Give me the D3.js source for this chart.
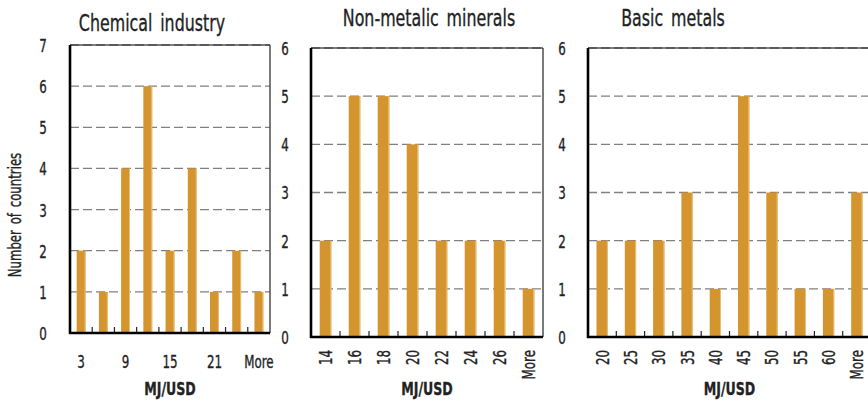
<!DOCTYPE html>
<html>
<head>
<meta charset="utf-8">
<script src="https://cdn.jsdelivr.net/npm/d3@7"></script>
<style>
  html, body { margin: 0; padding: 0; background: #fff; }
  svg { display: block; }
  text { font-family: "DejaVu Sans", sans-serif; fill: #222; stroke: #222; stroke-width: 0.35; }
</style>
</head>
<body>
<svg id="chart" width="868" height="401"></svg>
<script>
// ---- Data ----
const chemCategories = ["3", "6", "9", "12", "15", "18", "21", "24", "More"];
const chemValues = [2, 1, 4, 6, 2, 4, 1, 2, 1];
const chemTickLabels = ["3", "", "9", "", "15", "", "21", "", "More"];
const chemYTicks = [0, 1, 2, 3, 4, 5, 6, 7];

const mineralCategories = ["14", "16", "18", "20", "22", "24", "26", "More"];
const mineralValues = [2, 5, 5, 4, 2, 2, 2, 1];
const mineralYTicks = [0, 1, 2, 3, 4, 5, 6];

const metalCategories = ["20", "25", "30", "35", "40", "45", "50", "55", "60", "More"];
const metalValues = [2, 2, 2, 3, 1, 5, 3, 1, 1, 3];
const metalYTicks = [0, 1, 2, 3, 4, 5, 6];

const panelTitles = ["Chemical industry", "Non-metalic minerals", "Basic metals"];
const xAxisTitle = "MJ/USD";
const yAxisTitle = "Number of countries";

// ---- Drawing ----
const svg = d3.select("#chart");
const barColor = "#D4952F";
const tickScale = 0.66;   // horizontal squeeze to mimic a condensed face

function drawPanel(p) {
  const g = svg.append("g");
  const x = d3.scaleBand().domain(p.categories).range([p.left, p.right]).paddingInner(0).paddingOuter(0);
  const y = d3.scaleLinear().domain([0, d3.max(p.yTicks)]).range([p.bottom, p.top]);

  // gridlines
  g.selectAll("line.grid").data(p.yTicks.filter(t => t > 0)).join("line")
    .attr("x1", p.left).attr("x2", p.right)
    .attr("y1", d => y(d)).attr("y2", d => y(d))
    .attr("stroke", "#808080").attr("stroke-width", 1.3)
    .attr("stroke-dasharray", "9,4");

  // top border & right border
  g.append("line").attr("x1", p.left).attr("x2", p.right)
    .attr("y1", p.top).attr("y2", p.top)
    .attr("stroke", "#333").attr("stroke-width", 1.6).attr("stroke-opacity", 0.85);
  g.append("line").attr("x1", p.right).attr("x2", p.right)
    .attr("y1", p.top).attr("y2", p.bottom)
    .attr("stroke", "#333").attr("stroke-width", 1.3);

  // bars
  const bw = x.bandwidth() * 0.4;
  g.selectAll("rect.bar").data(p.values).join("rect")
    .attr("x", (d, i) => x(p.categories[i]) + (x.bandwidth() - bw) / 2)
    .attr("width", bw)
    .attr("y", d => y(d))
    .attr("height", d => y(0) - y(d))
    .attr("fill", barColor);
  g.selectAll("rect.hl").data(p.values).join("rect")
    .attr("x", (d, i) => x(p.categories[i]) + (x.bandwidth() + bw) / 2 - 1)
    .attr("width", 1)
    .attr("y", d => y(d))
    .attr("height", d => y(0) - y(d))
    .attr("fill", "#E8C07A");

  // inner x ticks at band boundaries
  const bounds = p.categories.slice(1).map(c => x(c));
  g.selectAll("line.xt").data(bounds).join("line")
    .attr("x1", d => d).attr("x2", d => d)
    .attr("y1", p.bottom).attr("y2", p.bottom - 6)
    .attr("stroke", "#222").attr("stroke-width", 1.2);

  // axes lines
  g.append("line").attr("x1", p.left).attr("x2", p.left)
    .attr("y1", p.top).attr("y2", p.bottom + 1)
    .attr("stroke", "#000").attr("stroke-width", 2.6);
  g.append("line").attr("x1", p.left - 1).attr("x2", p.right)
    .attr("y1", p.bottom).attr("y2", p.bottom)
    .attr("stroke", "#000").attr("stroke-width", 2.4);

  // y tick labels via axis
  const yAxis = d3.axisLeft(y).tickValues(p.yTicks).tickFormat(d3.format("d"))
    .tickSize(0).tickPadding(p.yPad);
  const ya = g.append("g").attr("transform", `translate(${p.left},0)`).call(yAxis);
  ya.select(".domain").remove();
  ya.selectAll("text").attr("text-anchor", "middle").attr("x", 0).attr("dy", "0.36em")
    .attr("transform", `translate(${-p.yPad},0) scale(${tickScale},1)`)
    .style("font-size", "18px").style("font-family", null).attr("fill", "#222");

  // x tick labels
  const xAxis = d3.axisBottom(x).tickSize(0).tickFormat((d, i) => p.tickLabels[i]);
  const xa = g.append("g").attr("transform", `translate(0,${p.bottom})`).call(xAxis);
  xa.select(".domain").remove();
  if (p.rotate) {
    xa.selectAll("text")
      .attr("text-anchor", "end")
      .attr("x", 0).attr("y", 0).attr("dy", "0.36em")
      .attr("transform", `rotate(-90) translate(-13,0) scale(${tickScale},1)`)
      .style("font-size", "18px").style("font-family", null).attr("fill", "#222");
  } else {
    xa.selectAll("text").attr("x", 0).attr("y", 0).attr("dy", "0.71em")
      .attr("transform", `translate(0,22) scale(${tickScale},1)`)
      .style("font-size", "18px").style("font-family", null).attr("fill", "#222");
  }

  // x axis title
  g.append("text")
    .attr("transform", `translate(${(p.left + p.right) / 2},395) scale(0.7,1)`)
    .attr("text-anchor", "middle").style("font-size", "18px").style("font-weight", "bold")
    .text(xAxisTitle);

  // panel title
  g.append("text")
    .attr("transform", `translate(${p.titleX},${p.titleY}) scale(0.69,1)`)
    .attr("text-anchor", "middle").style("font-size", "23px").style("word-spacing", "4px")
    .text(p.title);
}

drawPanel({
  categories: chemCategories, values: chemValues, tickLabels: chemTickLabels, yTicks: chemYTicks,
  left: 70, right: 270, top: 45, bottom: 333, yPad: 27, rotate: false,
  title: panelTitles[0], titleX: 152, titleY: 31
});
drawPanel({
  categories: mineralCategories, values: mineralValues, tickLabels: mineralCategories, yTicks: mineralYTicks,
  left: 311, right: 543, top: 48, bottom: 337, yPad: 26, rotate: true,
  title: panelTitles[1], titleX: 429, titleY: 26
});
drawPanel({
  categories: metalCategories, values: metalValues, tickLabels: metalCategories, yTicks: metalYTicks,
  left: 588, right: 871, top: 48, bottom: 337, yPad: 26, rotate: true,
  title: panelTitles[2], titleX: 673, titleY: 26
});

// y axis title
svg.append("text")
  .attr("transform", "translate(21,215) rotate(-90) scale(0.69,1)")
  .attr("text-anchor", "middle").style("font-size", "17px").style("word-spacing", "3px")
  .text(yAxisTitle);
</script>
</body>
</html>
